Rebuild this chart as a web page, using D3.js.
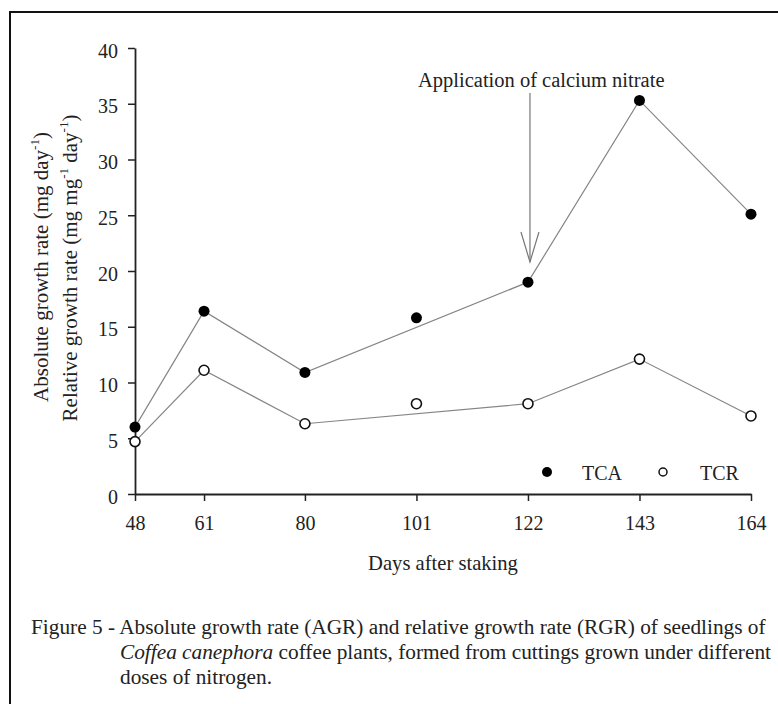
<!DOCTYPE html>
<html>
<head>
<meta charset="utf-8">
<script src="https://cdn.jsdelivr.net/npm/d3@7"></script>
<style>
  html, body { margin: 0; padding: 0; background: #fff; }
  svg { display: block; }
  text { font-family: "Liberation Serif", "Times New Roman", serif; fill: #222; }
</style>
</head>
<body>
<svg id="chart" width="778" height="704"></svg>
<script>
// ---- data ----
const days = [48, 61, 80, 101, 122, 143, 164];
const tca = [6.0, 16.4, 10.9, 15.8, 19.0, 35.3, 25.1];
const tcr = [4.7, 11.1, 6.3, 8.1, 8.1, 12.1, 7.0];
// connecting lines (drawn through all points except day 101)
const lineDays = [48, 61, 80, 122, 143, 164];
const tcaLine = [6.0, 16.4, 10.9, 19.0, 35.3, 25.1];
const tcrLine = [4.7, 11.1, 6.3, 8.1, 12.1, 7.0];
const yTicks = [0, 5, 10, 15, 20, 25, 30, 35, 40];
const seriesNames = ["TCA", "TCR"];
const annotationDay = 122;

const svg = d3.select("#chart");
svg.append("rect").attr("width", 778).attr("height", 704).attr("fill", "#fff");

// frame (top and left edges visible)
svg.append("path").attr("d", "M10,704 V12 H778")
  .attr("fill", "none").attr("stroke", "#111").attr("stroke-width", 2);

const x = d3.scaleLinear().domain([48, 164]).range([135, 751]);
const y = d3.scaleLinear().domain([0, 40]).range([494, 48]);

// axes
const yAxis = d3.axisLeft(y).tickValues(yTicks).tickSize(7).tickPadding(10).tickSizeOuter(0);
const gy = svg.append("g").attr("transform", "translate(135,0)").call(yAxis);
const xAxis = d3.axisBottom(x).tickValues(days).tickSize(7).tickPadding(15).tickSizeOuter(0);
const gx = svg.append("g").attr("transform", "translate(0,494)").call(xAxis);
[gx, gy].forEach(g => {
  g.select(".domain").attr("stroke", "#222").attr("stroke-width", 1.8);
  g.selectAll(".tick line").attr("stroke", "#222").attr("stroke-width", 1.5);
  g.selectAll(".tick text").attr("font-size", 20)
    .attr("font-family", "'Liberation Serif', serif").attr("fill", "#222");
});
gy.selectAll(".tick text").attr("dy", "0.45em");

// lines
const lineGen = d3.line().x(d => x(d[0])).y(d => y(d[1]));
[tcaLine, tcrLine].forEach(vals => {
  svg.append("path")
    .attr("d", lineGen(lineDays.map((d, i) => [d, vals[i]])))
    .attr("fill", "none").attr("stroke", "#858585").attr("stroke-width", 1.2);
});

// points
svg.append("g").selectAll("circle").data(days.map((d, i) => [d, tcr[i]])).join("circle")
  .attr("cx", d => x(d[0])).attr("cy", d => y(d[1])).attr("r", 5)
  .attr("fill", "#fff").attr("stroke", "#111").attr("stroke-width", 1.6);
svg.append("g").selectAll("circle").data(days.map((d, i) => [d, tca[i]])).join("circle")
  .attr("cx", d => x(d[0])).attr("cy", d => y(d[1])).attr("r", 5.5)
  .attr("fill", "#000");

// annotation arrow
const ax = x(annotationDay) + 2;
svg.append("line").attr("x1", ax).attr("x2", ax).attr("y1", 93).attr("y2", 262)
  .attr("stroke", "#777").attr("stroke-width", 1.2);
svg.append("path").attr("d", `M${ax - 9},232 L${ax},262 L${ax + 9},232`)
  .attr("fill", "none").attr("stroke", "#777").attr("stroke-width", 1.2);
svg.append("text").attr("x", 418).attr("y", 87).attr("font-size", 20.5)
  .text("Application of calcium nitrate");

// legend
svg.append("circle").attr("cx", 547).attr("cy", 472).attr("r", 5).attr("fill", "#000");
svg.append("text").attr("x", 582).attr("y", 480).attr("font-size", 20).text(seriesNames[0]);
svg.append("circle").attr("cx", 663).attr("cy", 472).attr("r", 4).attr("fill", "#fff")
  .attr("stroke", "#111").attr("stroke-width", 1.5);
svg.append("text").attr("x", 700).attr("y", 480).attr("font-size", 20).text(seriesNames[1]);

// axis titles
svg.append("text").attr("x", 443).attr("y", 570).attr("text-anchor", "middle")
  .attr("font-size", 20.6).text("Days after staking");

const t1 = svg.append("text").attr("transform", "translate(48,267) rotate(-90)")
  .attr("text-anchor", "middle").attr("font-size", 21);
t1.append("tspan").text("Absolute growth rate (mg day");
t1.append("tspan").attr("font-size", 13).attr("dy", -9).text("-1");
t1.append("tspan").attr("dy", 9).text(")");

const t2 = svg.append("text").attr("transform", "translate(77,268) rotate(-90)")
  .attr("text-anchor", "middle").attr("font-size", 21);
t2.append("tspan").text("Relative growth rate (mg mg");
t2.append("tspan").attr("font-size", 13).attr("dy", -9).text("-1");
t2.append("tspan").attr("dy", 9).text(" day");
t2.append("tspan").attr("font-size", 13).attr("dy", -9).text("-1");
t2.append("tspan").attr("dy", 9).text(")");

// caption
const cap = svg.append("g");
cap.append("text").attr("x", 31).attr("y", 634).attr("font-size", 21.3)
  .text("Figure 5 - Absolute growth rate (AGR) and relative growth rate (RGR) of seedlings of");
const c2 = cap.append("text").attr("x", 120).attr("y", 659).attr("font-size", 21.3);
c2.append("tspan").attr("font-style", "italic").text("Coffea canephora");
c2.append("tspan").text(" coffee plants, formed from cuttings grown under different");
cap.append("text").attr("x", 120).attr("y", 684).attr("font-size", 21.3).text("doses of nitrogen.");
</script>
</body>
</html>
